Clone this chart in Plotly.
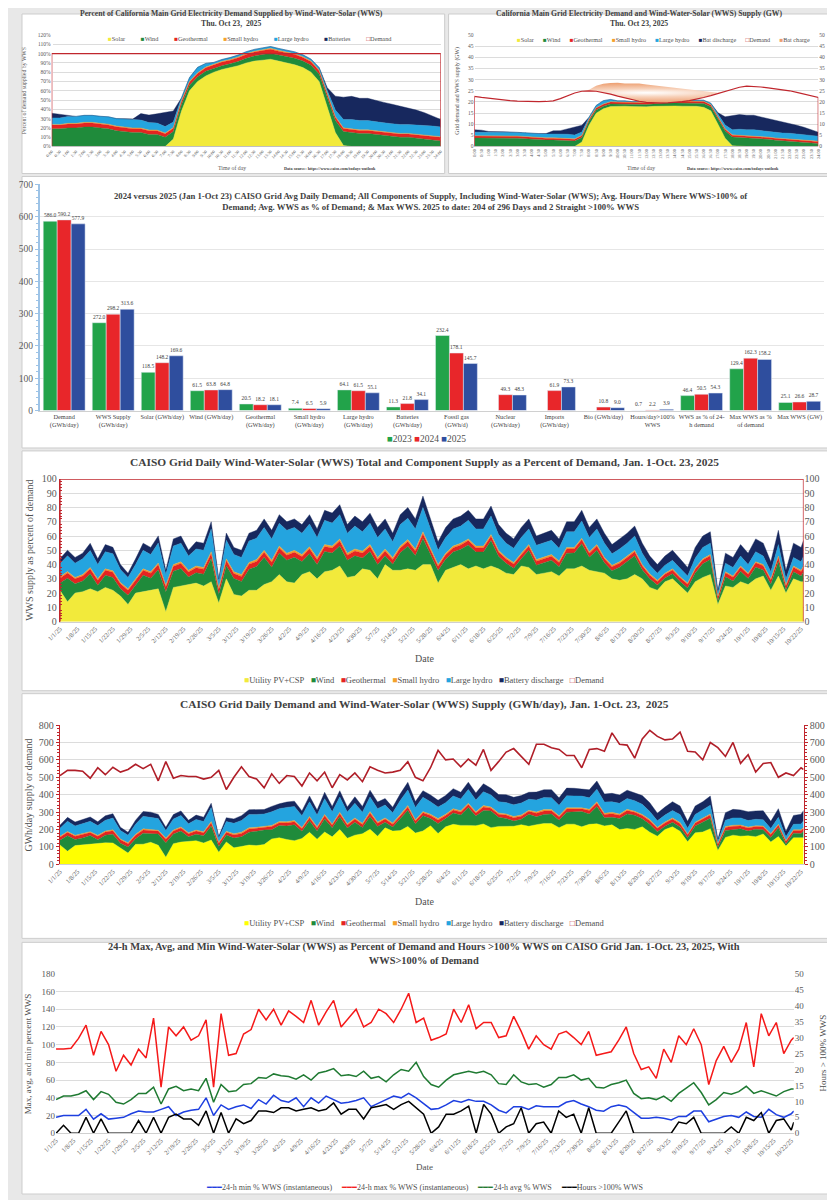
import pandas as pd
import plotly.graph_objects as go

# the page draws the figure 8 px in from the top-left corner (default body margin),
# so the figure is made 8 px smaller and every position is given in page pixels
PAGE_W, PAGE_H, OFF = 835, 1200, 8
W, H = PAGE_W - OFF, PAGE_H - OFF
SERIF = "Liberation Serif, Times New Roman, serif"

# ---------------- Oct 23 2025, read at half-hour steps ----------------
hours = [i / 2 for i in range(49)]
hour_labels = [f"{int(h)}:{'30' if h % 1 else '00'}" for h in hours]

# percent of demand (top-left)
solar_pct_day = [0, 0, 0, 0, 0, 0, 0, 0, 0, 0, 0, 0, 0, 0, 0,
                 8, 38, 60, 70, 76, 80, 83, 85, 87, 90, 92, 93, 94, 92, 90, 88, 85, 80, 70, 42, 15, 1,
                 0, 0, 0, 0, 0, 0, 0, 0, 0, 0, 0, 0]
wind_pct_day = [19, 19, 20, 20, 21, 21, 20, 19, 17, 16, 15, 15, 13, 13, 10,
                8, 7, 6, 5, 5, 4, 4, 4, 4.5, 5, 5.5, 6, 6.5, 6.5, 7, 7, 7, 7.5, 8, 10, 13, 15,
                15, 14, 14, 13, 12, 11, 10, 10, 9, 8, 7, 6]
geo_pct_day = [4.0, 4.0, 4.1, 4.1, 4.2, 4.2, 4.2, 4.2, 4.2, 4.2, 4.2, 4.1, 4.0, 3.9, 3.7,
               3.6, 3.5, 3.5, 3.6, 3.7, 3.8, 3.9, 4.0, 4.1, 4.2, 4.2, 4.3, 4.3, 4.2, 4.1, 4.0, 3.9, 3.8, 3.7, 3.6, 3.5, 3.4,
               3.3, 3.2, 3.2, 3.2, 3.3, 3.3, 3.4, 3.4, 3.5, 3.6, 3.7, 3.8]
shydro_pct_day = [0.8, 0.8, 0.8, 0.8, 0.8, 0.8, 0.8, 0.8, 0.8, 0.8, 0.8, 0.8, 0.8, 0.8, 0.7,
                  0.7, 0.7, 0.7, 0.7, 0.8, 0.8, 0.8, 0.8, 0.9, 0.9, 0.9, 0.9, 0.9, 0.9, 0.9, 0.9, 0.8, 0.8, 0.8, 0.8, 0.7, 0.7,
                  0.7, 0.7, 0.7, 0.7, 0.7, 0.7, 0.7, 0.7, 0.7, 0.8, 0.8, 0.8]
lhydro_pct_day = [7, 7, 7.5, 7.5, 7.5, 7.5, 7.5, 8, 8, 8.5, 8.5, 8.5, 8, 7.5, 7,
                  6, 3, 4, 6, 4, 2, 2, 2, 2, 2, 2, 2, 2, 2, 2, 2, 2, 2, 2.5, 4, 7, 9,
                  10, 10, 10, 9.5, 9.5, 9.5, 9.5, 9.5, 10, 10, 10.5, 10.5]
batt_pct_day = [5, 4, 1, 0, 0, 0, 0, 0, 0, 0.5, 1, 7, 8, 10, 15,
                12, 0, 0, 0, 0, 0, 0, 0, 0, 0, 0, 0, 0, 0, 0, 0, 0, 0, 0, 3, 15, 24,
                25, 24, 24, 23, 22, 21, 20, 18, 16, 14, 11, 8]
demand_pct_day = [100, 100, 100, 100, 100, 100, 100, 100, 100, 100, 100, 100, 100, 100, 100,
                  100, 100, 100, 100, 100, 100, 100, 100, 100, 100, 100, 100, 100, 100, 100, 100, 100,
                  100, 100, 100, 100, 100, 100, 100, 100, 100, 100, 100, 100, 100, 100, 100, 100, 100]

# GW (top-right)
demand_gw = [22.5, 22.0, 21.6, 21.2, 20.9, 20.6, 20.4, 20.2, 20.1, 20.1, 20.2, 20.5, 21.5, 22.8, 24.0,
             24.8, 25.0, 24.8, 24.2, 23.5, 22.6, 21.8, 21.0, 20.3, 19.8, 19.6, 19.5, 19.6, 19.8, 20.1, 20.6, 21.2,
             22.0, 22.8, 23.8, 24.8, 25.8,
             26.6, 27.1, 27.0, 26.7, 26.3, 25.9, 25.5, 25.0, 24.3, 23.5, 22.8, 22.0]
solar_gw = [0, 0, 0, 0, 0, 0, 0, 0, 0, 0, 0, 0, 0, 0, 0,
            2.0, 9.5, 14.9, 16.9, 17.9, 18.1, 18.1, 17.9, 17.7, 17.8, 18.0, 18.1, 18.4, 18.2, 18.1, 18.1, 18.0,
            17.6, 16.0, 10.0, 3.7, 0.3,
            0, 0, 0, 0, 0, 0, 0, 0, 0, 0, 0, 0]
wind_gw = [3.8, 3.8, 3.9, 3.9, 4.0, 3.9, 3.7, 3.5, 3.2, 3.0, 2.9, 2.9, 2.7, 2.8, 2.4,
           2.0, 1.8, 1.5, 1.2, 1.2, 0.9, 0.9, 0.8, 0.9, 1.0, 1.1, 1.2, 1.3, 1.3, 1.4, 1.4, 1.5, 1.7, 1.8, 2.4, 3.2, 3.9,
           4.0, 3.8, 3.8, 3.5, 3.2, 2.8, 2.6, 2.5, 2.2, 1.9, 1.6, 1.3]
geo_gw = [0.85, 0.85, 0.85, 0.85, 0.85, 0.85, 0.85, 0.85, 0.84, 0.84, 0.84, 0.84, 0.84, 0.84, 0.84,
          0.84, 0.84, 0.84, 0.84, 0.84, 0.84, 0.84, 0.84, 0.84, 0.84, 0.84, 0.84, 0.84, 0.84, 0.84, 0.84, 0.84,
          0.84, 0.84, 0.85, 0.85, 0.85,
          0.85, 0.85, 0.85, 0.85, 0.85, 0.85, 0.85, 0.85, 0.85, 0.85, 0.85, 0.85]
shydro_gw = [0.18, 0.18, 0.18, 0.18, 0.17, 0.17, 0.17, 0.17, 0.17, 0.17, 0.17, 0.17, 0.17, 0.18, 0.18,
             0.18, 0.18, 0.18, 0.18, 0.18, 0.18, 0.18, 0.18, 0.18, 0.18, 0.18, 0.18, 0.18, 0.18, 0.18, 0.18, 0.18,
             0.18, 0.18, 0.18, 0.18, 0.18,
             0.19, 0.19, 0.19, 0.19, 0.19, 0.19, 0.19, 0.18, 0.18, 0.18, 0.18, 0.18]
lhydro_gw = [1.6, 1.6, 1.6, 1.6, 1.6, 1.6, 1.6, 1.6, 1.6, 1.7, 1.7, 1.7, 1.7, 1.7, 1.7,
             1.5, 0.8, 1.0, 1.45, 1.0, 0.45, 0.45, 0.4, 0.4, 0.4, 0.4, 0.4, 0.4, 0.4, 0.4, 0.4, 0.45, 0.45,
             0.6, 1.0, 1.7, 2.3,
             2.7, 2.7, 2.7, 2.6, 2.5, 2.5, 2.4, 2.4, 2.4, 2.4, 2.3, 2.3]
batt_gw = [1.1, 0.9, 0.2, 0, 0, 0, 0, 0, 0, 0.1, 0.2, 1.4, 1.7, 2.3, 3.6,
           3.0, 0, 0, 0, 0, 0, 0, 0, 0, 0, 0, 0, 0, 0, 0, 0, 0, 0, 0, 0.7, 3.7, 6.2,
           6.6, 6.5, 6.5, 6.1, 5.8, 5.4, 5.1, 4.5, 3.9, 3.3, 2.5, 1.8]
charge_gw = [0, 0, 0, 0, 0, 0, 0, 0, 0, 0, 0, 0, 0, 0, 0, 0,
             0.5, 2.5, 4.0, 5.0, 6.0, 6.5, 7.3, 8.0, 8.0, 7.8, 7.5, 7.0, 6.5, 6.0, 5.0, 4.0, 2.8, 1.5, 0.3,
             0, 0, 0, 0, 0, 0, 0, 0, 0, 0, 0, 0, 0, 0]

# ---------------- bar chart: 2023 / 2024 / 2025 averages ----------------
bar_cats = ["Demand<br>(GWh/day)", "WWS Supply<br>(GWh/day)", "Solar (GWh/day)", "Wind (GWh/day)",
            "Geothermal<br>(GWh/day)", "Small hydro<br>(GWh/day)", "Large hydro<br>(GWh/day)",
            "Batteries<br>(GWh/day)", "Fossil gas<br>(GWh/d)", "Nuclear<br>(GWh/day)", "Imports<br>(GWh/day)",
            "Bio (GWh/day)", "Hours/day>100%<br>WWS", "WWS as % of 24-<br>h demand", "Max WWS as %<br>of demand",
            "Max WWS (GW)"]
bar_2023 = [586.0, 272.0, 118.5, 61.5, 20.5, 7.4, 64.1, 11.3, 232.4, None, None, None, 0.7, 46.4, 129.4, 25.1]
bar_2024 = [590.2, 298.2, 148.2, 63.8, 18.2, 6.5, 61.5, 21.8, 178.1, 49.3, 61.9, 10.8, 2.2, 50.5, 162.3, 26.6]
bar_2025 = [577.9, 313.6, 169.6, 64.8, 18.1, 5.9, 55.1, 34.1, 145.7, 48.3, 73.3, 9.0, 3.9, 54.3, 158.2, 28.7]

# ---------------- daily series, Jan 1 - Oct 23 2025, read every 3rd day ----------------
dates = pd.date_range("2025-01-01", "2025-10-22", freq="3D").strftime("%Y-%m-%d").tolist() + ["2025-10-23"]

pv_pct = [22, 14, 20, 21, 23, 21, 24, 22, 18, 12,
          20, 21, 22, 23, 7, 24, 25, 26, 27, 25,
          28, 13, 30, 19, 18, 22, 22, 26, 28, 33,
          28, 27, 33, 35, 30, 35, 36, 39, 31, 32,
          37, 36, 30, 40, 36, 36, 37, 36, 40, 40,
          27, 36, 38, 40, 37, 39, 37, 39, 37, 34,
          33, 39, 38, 33, 34, 35, 32, 37, 37, 39,
          36, 35, 34, 30, 29, 30, 33, 30, 24, 22,
          28, 30, 25, 20, 28, 31, 33, 12, 25, 24,
          28, 26, 30, 32, 22, 32, 20, 30, 28, 28]
wind_pct = [5.0, 16.5, 6.5, 7.5, 10.5, 4.5, 8.5, 9.0, 5.0, 6.5,
            5.5, 11.5, 8.5, 13.4, 14.0, 11.4, 12.3, 5.3, 7.3, 8.3,
            16.2, 6.0, 9.2, 11.2, 10.2, 14.7, 16.7, 19.1, 10.1, 15.1,
            15.1, 18.1, 9.1, 12.6, 10.1, 14.1, 12.1, 14.1, 12.1, 14.1,
            7.6, 13.1, 10.1, 6.1, 4.3, 12.3, 15.8, 10.3, 18.3, 7.6,
            8.8, 7.8, 10.8, 10.8, 16.8, 9.8, 11.8, 17.8, 8.8, 6.9,
            4.5, 5.0, 12.0, 6.5, 7.5, 8.0, 6.5, 11.0, 11.1, 15.6,
            9.1, 15.1, 7.2, 5.7, 9.2, 12.2, 13.2, 6.4, 6.0, 3.6,
            2.6, 3.6, 3.1, 3.6, 6.1, 9.5, 10.5, 2.5, 6.4, 4.4,
            7.3, 4.3, 8.2, 4.2, 4.2, 10.1, 2.2, 5.0, 4.0, 7.0]
geo_pct = [3.5, 3.6, 3.5, 3.5, 3.4, 3.5, 3.5, 3.6, 3.5, 3.5,
           3.5, 3.5, 3.5, 3.6, 3.5, 3.5, 3.5, 3.5, 3.5, 3.5,
           3.5, 3.5, 3.6, 3.5, 3.5, 3.5, 3.5, 3.5, 3.5, 3.5,
           3.5, 3.5, 3.5, 3.5, 3.5, 3.5, 3.6, 3.5, 3.5, 3.5,
           3.5, 3.5, 3.5, 3.5, 3.3, 3.3, 3.3, 3.3, 3.3, 3.1,
           3.0, 3.0, 3.0, 3.0, 3.0, 3.0, 3.0, 3.0, 3.0, 3.0,
           2.9, 2.9, 2.9, 2.9, 2.9, 2.9, 2.9, 2.9, 2.9, 2.9,
           2.9, 2.9, 2.8, 2.8, 2.8, 2.8, 2.8, 2.7, 2.6, 2.6,
           2.6, 2.6, 2.6, 2.6, 2.6, 2.7, 2.7, 2.7, 2.8, 2.8,
           2.9, 2.9, 3.0, 3.0, 3.0, 3.1, 3.0, 3.2, 3.2, 3.2]
shydro_pct = [1.0, 1.0, 1.0, 1.0, 1.0, 1.0, 1.0, 1.0, 1.0, 1.0,
              1.0, 1.0, 1.0, 1.1, 1.1, 1.1, 1.2, 1.2, 1.2, 1.2,
              1.3, 1.3, 1.3, 1.3, 1.3, 1.3, 1.3, 1.4, 1.4, 1.4,
              1.4, 1.4, 1.4, 1.4, 1.4, 1.4, 1.4, 1.4, 1.4, 1.4,
              1.4, 1.4, 1.4, 1.4, 1.4, 1.4, 1.4, 1.4, 1.4, 1.3,
              1.2, 1.2, 1.2, 1.2, 1.2, 1.2, 1.2, 1.2, 1.2, 1.1,
              1.1, 1.1, 1.1, 1.1, 1.1, 1.1, 1.1, 1.1, 1.0, 1.0,
              1.0, 1.0, 1.0, 1.0, 1.0, 1.0, 1.0, 0.9, 0.9, 0.8,
              0.8, 0.8, 0.8, 0.8, 0.8, 0.8, 0.8, 0.8, 0.8, 0.8,
              0.8, 0.8, 0.8, 0.8, 0.8, 0.8, 0.8, 0.8, 0.8, 0.8]
lhydro_pct = [9, 11, 10, 11, 12, 10, 12, 12, 9, 8,
              10, 13, 12, 14, 7.5, 13, 13, 10, 12, 12,
              16, 4.5, 13, 12, 12, 15, 15, 16, 15, 16,
              16, 16, 15, 16, 14, 17, 16, 17, 14, 16,
              13.5, 15, 14, 14, 11, 15, 15, 14, 17, 13,
              10, 11, 12, 12, 13, 12, 12, 13, 11, 10,
              10, 11, 11, 10, 10, 10, 9, 11, 11, 12,
              10, 11, 10, 8, 9, 9, 10, 8, 6, 5,
              5.5, 6, 6, 5, 7, 8, 8, 2, 6, 6,
              7, 6, 7, 6, 5, 8, 4, 6, 6, 7]
batt_pct = [3.5, 4, 4, 4, 5, 4, 5, 4.5, 3.5, 3,
            4, 5, 5, 5, 3, 5, 5, 4, 5, 5,
            5, 1.7, 5, 5, 5, 5.5, 5.5, 6, 6, 6,
            6, 6, 6, 6.5, 6, 7, 7, 7, 6, 7,
            7, 7, 7, 7, 6, 7, 7.5, 7, 8, 7,
            6, 7, 7, 7, 7, 7, 7, 7, 7, 7,
            6.5, 7, 7, 6.5, 6.5, 7, 6.5, 7, 7, 7.5,
            7, 7, 7, 6.5, 7, 7, 7, 7, 6.5, 6,
            6.5, 7, 6.5, 6, 7.5, 8, 8, 2, 7, 7,
            8, 8, 9, 9, 7, 10, 6, 10, 10, 11]
demand_pct = [100, 100, 100, 100, 100, 100, 100, 100, 100, 100,
              100, 100, 100, 100, 100, 100, 100, 100, 100, 100,
              100, 100, 100, 100, 100, 100, 100, 100, 100, 100,
              100, 100, 100, 100, 100, 100, 100, 100, 100, 100,
              100, 100, 100, 100, 100, 100, 100, 100, 100, 100,
              100, 100, 100, 100, 100, 100, 100, 100, 100, 100,
              100, 100, 100, 100, 100, 100, 100, 100, 100, 100,
              100, 100, 100, 100, 100, 100, 100, 100, 100, 100,
              100, 100, 100, 100, 100, 100, 100, 100, 100, 100,
              100, 100, 100, 100, 100, 100, 100, 100, 100, 100]

demand_gwh = [510, 540, 540, 535, 495, 555, 515, 558, 530, 545,
              575, 550, 575, 480, 590, 495, 510, 505, 505, 490,
              500, 540, 430, 500, 560, 505, 490, 440, 520, 465,
              510, 505, 450, 525, 480, 530, 440, 515, 485, 525,
              475, 560, 540, 525, 530, 540, 590, 500, 480, 555,
              655, 600, 605, 560, 605, 570, 660, 540, 590, 645,
              665, 620, 575, 690, 690, 670, 660, 625, 625, 555,
              660, 665, 650, 755, 690, 685, 610, 720, 770, 735,
              715, 720, 760, 650, 645, 600, 700, 670, 620, 700,
              580, 630, 530, 580, 585, 500, 525, 510, 555, 545]
pv_gwh = [112, 76, 108, 112, 114, 117, 124, 123, 95, 65,
          115, 116, 127, 110, 41, 119, 128, 131, 136, 123,
          140, 70, 129, 95, 101, 111, 108, 114, 146, 153,
          143, 136, 149, 184, 144, 186, 158, 201, 150, 168,
          176, 202, 162, 210, 191, 194, 218, 180, 192, 222,
          177, 216, 230, 224, 224, 222, 232, 211, 218, 219,
          219, 228, 219, 228, 235, 235, 211, 231, 231, 216,
          230, 233, 221, 227, 200, 206, 201, 216, 185, 162,
          200, 216, 190, 130, 181, 186, 205, 80, 155, 168,
          162, 164, 159, 175, 129, 160, 105, 153, 155, 153]
wind_gwh = [26, 89, 35, 40, 52, 25, 44, 50, 27, 35,
            32, 63, 49, 64, 83, 56, 63, 27, 37, 41,
            81, 32, 40, 56, 57, 74, 82, 84, 53, 70,
            77, 91, 41, 66, 48, 75, 53, 73, 59, 74,
            36, 73, 55, 32, 23, 66, 93, 52, 88, 42,
            58, 47, 65, 60, 102, 56, 78, 96, 52, 45,
            30, 31, 69, 45, 52, 54, 43, 69, 69, 87,
            60, 100, 47, 43, 63, 84, 81, 46, 46, 26,
            19, 26, 24, 23, 39, 57, 60, 17, 40, 31,
            42, 27, 43, 24, 25, 50, 12, 26, 22, 38]
geo_gwh = [18, 19, 19, 19, 17, 19, 18, 20, 19, 19,
           20, 19, 20, 17, 21, 17, 18, 18, 18, 17,
           18, 19, 15, 18, 20, 18, 17, 15, 18, 16,
           18, 18, 16, 18, 17, 19, 15, 18, 17, 18,
           17, 20, 19, 18, 17, 18, 19, 17, 16, 17,
           20, 18, 18, 17, 18, 17, 20, 16, 18, 19,
           19, 18, 17, 20, 20, 19, 19, 18, 18, 16,
           19, 19, 18, 21, 19, 19, 17, 19, 20, 19,
           19, 19, 20, 17, 17, 16, 19, 18, 17, 20,
           17, 18, 16, 17, 18, 16, 16, 16, 18, 17]
shydro_gwh = [5, 5, 5, 5, 5, 6, 5, 6, 5, 5,
              6, 6, 6, 5, 6, 5, 6, 6, 6, 6,
              7, 7, 6, 7, 7, 7, 6, 6, 7, 7,
              7, 7, 6, 7, 7, 7, 6, 7, 7, 7,
              7, 8, 8, 7, 7, 8, 8, 7, 7, 7,
              8, 7, 7, 7, 7, 7, 8, 6, 7, 7,
              7, 7, 6, 8, 8, 7, 7, 7, 6, 6,
              7, 7, 7, 8, 7, 7, 6, 6, 7, 6,
              6, 6, 6, 5, 5, 5, 6, 5, 5, 6,
              5, 5, 4, 5, 5, 4, 4, 4, 4, 4]
lhydro_gwh = [46, 59, 54, 59, 59, 56, 62, 67, 48, 44,
              58, 72, 69, 67, 44, 64, 66, 51, 61, 59,
              80, 24, 56, 60, 67, 76, 74, 70, 78, 74,
              82, 81, 68, 84, 67, 90, 70, 88, 68, 84,
              64, 84, 76, 74, 58, 81, 89, 70, 82, 72,
              66, 66, 73, 67, 79, 68, 79, 70, 65, 65,
              67, 68, 63, 69, 69, 67, 59, 69, 69, 67,
              66, 73, 65, 60, 62, 62, 61, 58, 46, 37,
              39, 43, 46, 33, 45, 48, 50, 13, 37, 42,
              41, 38, 37, 35, 29, 40, 21, 31, 33, 38]
batt_gwh = [18, 22, 22, 21, 25, 22, 26, 25, 19, 16,
            23, 28, 29, 24, 18, 25, 26, 20, 25, 25,
            25, 9, 22, 25, 28, 28, 27, 26, 31, 28,
            31, 30, 27, 34, 29, 37, 31, 36, 29, 37,
            33, 39, 38, 37, 32, 38, 44, 35, 38, 39,
            39, 42, 42, 39, 42, 40, 46, 38, 41, 45,
            43, 43, 40, 45, 45, 47, 43, 44, 44, 42,
            46, 47, 46, 49, 48, 48, 43, 50, 50, 44,
            46, 50, 49, 39, 48, 48, 52, 13, 43, 49,
            46, 50, 48, 52, 41, 50, 32, 51, 56, 60]

max_pct = [95, 95, 96, 107, 122, 88, 115, 100, 70, 88,
           77, 95, 85, 130, 52, 120, 110, 120, 105, 110,
           128, 52, 135, 88, 90, 112, 117, 140, 128, 140,
           122, 138, 132, 125, 150, 122, 137, 150, 120, 130,
           140, 120, 125, 140, 135, 125, 140, 158, 125, 130,
           105, 108, 112, 140, 125, 145, 118, 125, 125, 108,
           110, 132, 115, 95, 110, 100, 95, 112, 115, 108,
           100, 115, 88, 90, 92, 105, 120, 90, 72, 75,
           62, 95, 80, 110, 100, 118, 100, 55, 82, 98,
           80, 95, 125, 75, 135, 110, 125, 90, 105, 108]
avg_pct = [38, 42, 42, 44, 48, 38, 47, 44, 35, 33,
           38, 45, 45, 52, 33, 50, 53, 48, 50, 48,
           62, 35, 55, 47, 48, 55, 56, 63, 62, 67,
           65, 64, 61, 66, 60, 68, 70, 73, 65, 66,
           64, 70, 62, 64, 58, 66, 72, 70, 80, 64,
           55, 52, 60, 66, 68, 70, 68, 70, 66, 56,
           55, 66, 58, 55, 56, 52, 55, 63, 63, 66,
           60, 62, 52, 51, 55, 57, 60, 45, 39, 40,
           38, 42, 36, 45, 51, 57, 46, 32, 38, 46,
           44, 47, 53, 45, 48, 45, 42, 47, 50, 50]
min_pct = [18, 20, 20, 20, 27, 16, 22, 16, 17, 18,
           22, 25, 24, 24, 27, 30, 20, 24, 26, 27,
           40, 20, 32, 27, 30, 32, 28, 38, 33, 43,
           37, 35, 40, 30, 40, 34, 42, 38, 34, 35,
           37, 40, 30, 34, 38, 42, 40, 45, 40, 34,
           27, 28, 32, 37, 35, 38, 36, 36, 32, 26,
           23, 30, 30, 27, 31, 30, 30, 30, 35, 37,
           33, 30, 26, 25, 30, 32, 30, 24, 17, 17,
           18, 17, 15, 19, 19, 25, 25, 13, 16, 19,
           20, 18, 24, 19, 18, 27, 21, 18, 22, 25]
hours_over_100 = [0, 2.5, 0, 0, 5.0, 0, 4.5, 0, 0, 0,
                  0, 4.0, 0, 5.0, 0, 5.0, 6.0, 4.5, 4.5, 2.5,
                  7.0, 0, 6.5, 0, 4.5, 3.0, 4.0, 7.0, 7.0, 6.5,
                  8.0, 8.0, 7.0, 7.5, 8.0, 7.0, 7.5, 9.5, 6.0, 7.5,
                  7.5, 4.5, 8.0, 8.5, 9.0, 7.5, 9.0, 10.0, 8.0, 6.0,
                  0, 2, 6, 6, 7, 8.5, 0, 9, 6, 0,
                  2, 3, 8, 0, 3, 3.5, 0, 7, 5, 6,
                  0, 8, 0, 0, 0, 3.5, 7, 0, 0, 0,
                  0, 0, 0, 3.5, 3, 5, 0, 0, 0, 0,
                  2, 0, 5, 4, 6.5, 0, 4, 4.5, 1, 3.5]

# ---------------- colours ----------------
PV, PV_E = "#F2EA3B", "#FFFF00"
WIND, GEO, SHYD, LHYD, BATT = "#1F8B3B", "#E52421", "#F4A12B", "#24A4DF", "#17285E"
DEM, CHG = "#C0262D", "#ED9E6F"
GRID = "#dcdcdc"
TXT = "#404040"


def px(x):  # page pixel -> paper x
    return (x - OFF) / W


def py(y):
    return 1 - (y - OFF) / H


fig = go.Figure()


def area(x, y, color, group, xa, ya, name):
    fig.add_trace(go.Scatter(x=x, y=y, name=name, mode="lines", stackgroup=group,
                             line=dict(width=0.4, color=color), fillcolor=color,
                             xaxis=xa, yaxis=ya, showlegend=False))


# panel A: percent of demand, one day
for y, c, n in [(solar_pct_day, PV, "Solar"), (wind_pct_day, WIND, "Wind"), (geo_pct_day, GEO, "Geothermal"),
                (shydro_pct_day, SHYD, "Small hydro"), (lhydro_pct_day, LHYD, "Large hydro"),
                (batt_pct_day, BATT, "Batteries")]:
    area(hours, y, c, "a", "x", "y", n)
fig.add_trace(go.Scatter(x=[hours[0]] + hours + [hours[-1]], y=[0] + demand_pct_day + [0], mode="lines",
                         line=dict(color=DEM, width=1.2), xaxis="x", yaxis="y", showlegend=False, name="Demand"))

# panel B: GW, one day
for y, c, n in [(solar_gw, PV, "Solar"), (wind_gw, WIND, "Wind"), (geo_gw, GEO, "Geothermal"),
                (shydro_gw, SHYD, "Small hydro"), (lhydro_gw, LHYD, "Large hydro"),
                (batt_gw, BATT, "Bat discharge")]:
    area(hours, y, c, "b", "x2", "y2", n)
fig.add_trace(go.Scatter(x=hours, y=demand_gw, mode="lines", stackgroup="chg", fill="none",
                         line=dict(width=0), xaxis="x2", yaxis="y3", showlegend=False, hoverinfo="skip"))
fig.add_trace(go.Scatter(x=hours, y=charge_gw, mode="lines", stackgroup="chg", fill="tonexty",
                         line=dict(width=0), fillcolor=CHG,
                         fillgradient=dict(type="radial", colorscale=[[0, "#ffffff"], [0.4, "#f7d2bb"], [1, CHG]]),
                         xaxis="x2", yaxis="y3", showlegend=False, name="Bat charge"))
fig.add_trace(go.Scatter(x=[hours[0]] + hours + [hours[-1]], y=[0] + demand_gw + [0], mode="lines",
                         line=dict(color=DEM, width=1.2), xaxis="x2", yaxis="y3", showlegend=False, name="Demand"))

# panel C: bars
for vals, c, n in [(bar_2023, "#22A34A", "2023"), (bar_2024, "#E8262A", "2024"), (bar_2025, "#2F4E9E", "2025")]:
    fig.add_trace(go.Bar(x=bar_cats, y=vals, name=n, marker_color=c, xaxis="x3", yaxis="y4",
                         texttemplate="%{y:.1f}", textposition="outside", constraintext="none",
                         textfont=dict(size=5.5, color=TXT, family=SERIF), cliponaxis=False, showlegend=False))

# panel D: daily percent
for y, c, n in [(pv_pct, PV, "Utility PV+CSP"), (wind_pct, WIND, "Wind"), (geo_pct, GEO, "Geothermal"),
                (shydro_pct, SHYD, "Small hydro"), (lhydro_pct, LHYD, "Large hydro"),
                (batt_pct, BATT, "Battery discharge")]:
    area(dates, y, c, "d", "x4", "y5", n)
fig.add_trace(go.Scatter(x=[dates[0]] + dates + [dates[-1]], y=[0] + demand_pct + [0], mode="lines",
                         line=dict(color=DEM, width=1.4), xaxis="x4", yaxis="y6", showlegend=False, name="Demand"))

# panel E: daily GWh
for y, c, n in [(pv_gwh, PV_E, "Utility PV+CSP"), (wind_gwh, WIND, "Wind"), (geo_gwh, GEO, "Geothermal"),
                (shydro_gwh, SHYD, "Small hydro"), (lhydro_gwh, LHYD, "Large hydro"),
                (batt_gwh, BATT, "Battery discharge")]:
    area(dates, y, c, "e", "x5", "y7", n)
fig.add_trace(go.Scatter(x=dates, y=demand_gwh, mode="lines", line=dict(color="#B01E28", width=1.6),
                         xaxis="x5", yaxis="y8", showlegend=False, name="Demand"))

# panel F: lines
for y, c, n, ya in [(min_pct, "#1D3FE0", "24-h min % WWS (instantaneous)", "y9"),
                    (max_pct, "#F51919", "24-h max % WWS (instantaneous)", "y9"),
                    (avg_pct, "#1F7A32", "24-h avg % WWS", "y9"),
                    (hours_over_100, "#000000", "Hours >100% WWS", "y10")]:
    fig.add_trace(go.Scatter(x=dates, y=y, mode="lines", line=dict(color=c, width=1.5), name=n,
                             xaxis="x6", yaxis=ya, showlegend=False))

# ---------------- axes ----------------
tf = lambda s, c="#595959": dict(size=s, color=c, family=SERIF)


def yax(dom, rng, dtick, size, anchor, **kw):
    d = dict(domain=dom, range=rng, dtick=dtick, tickfont=tf(size), gridcolor=GRID, zeroline=False,
             anchor=anchor, ticks="")
    d.update(kw)
    return d


date_x = dict(type="date", range=["2025-01-01", "2025-10-23"], tick0="2025-01-01", dtick=604800000,
              tickformat="%-m/%-d/%y", tickangle=-45, tickfont=tf(6.5), showgrid=False,
              showline=True, linecolor="#d0d0d0", ticks="")
red_axis = dict(showline=True, linecolor=DEM, linewidth=1.3, ticks="outside", ticklen=3, tickcolor=DEM,
                minor=dict(ticks="outside", ticklen=2, tickcolor=DEM))

dom_top = [py(141.7), py(29.3)]
fig.update_layout(
    xaxis=dict(domain=[px(38.3), px(435)], range=[0, 24], tickvals=hours, ticktext=hour_labels, tickangle=-45,
               tickfont=tf(4.3), showgrid=False, showline=True, linecolor="#c0c0c0", anchor="y"),
    yaxis=yax(dom_top, [0, 120], 10, 5.5, "x", ticksuffix="%"),
    xaxis2=dict(domain=[px(469.3), px(820)], range=[0, 24], tickvals=hours, ticktext=hour_labels, tickangle=-90,
                tickfont=tf(4.3), showgrid=False, showline=True, linecolor="#c0c0c0", anchor="y2"),
    yaxis2=yax(dom_top, [0, 50], 5, 5.5, "x2"),
    yaxis3=yax(dom_top, [0, 50], 5, 5.5, "x2", overlaying="y2", side="right", showgrid=False),
    xaxis3=dict(domain=[px(26), px(826)], type="category", tickfont=tf(6.3, TXT), tickangle=0, showline=True,
                linecolor="#d0d0d0", anchor="y4"),
    yaxis4=yax([py(408.3), py(180)], [0, 700], 100, 9.5, "x3", showline=True, linecolor="#9DC3E6", linewidth=1.5,
               ticks="outside", ticklen=3, tickcolor="#9DC3E6", gridcolor="#e6e6e6",
               minor=dict(ticks="outside", ticklen=2, tickcolor="#9DC3E6", dtick=20)),
    xaxis4=dict(domain=[px(46.7), px(805)], anchor="y5", **date_x),
    yaxis5=yax([py(621.3), py(477.3)], [0, 100], 10, 10, "x4"),
    yaxis6=yax([py(621.3), py(477.3)], [0, 100], 10, 10, "x4", overlaying="y5", side="right", showgrid=False),
    xaxis5=dict(domain=[px(46.7), px(805)], anchor="y7", **date_x),
    yaxis7=yax([py(866.3), py(725.7)], [0, 800], 100, 10, "x5", **red_axis),
    yaxis8=yax([py(866.3), py(725.7)], [0, 800], 100, 10, "x5", overlaying="y7", side="right", showgrid=False,
               **red_axis),
    xaxis6=dict(domain=[px(42.7), px(795)], anchor="y9", **date_x),
    yaxis9=yax([py(1137.7), py(976.7)], [0, 180], 20, 9, "x6"),
    yaxis10=yax([py(1137.7), py(976.7)], [0, 50], 5, 9, "x6", overlaying="y9", side="right", showgrid=False),
)
fig.layout.yaxis5.update(showline=True, linecolor=DEM, linewidth=1.3,
                         minor=dict(ticks="inside", ticklen=2, tickcolor=DEM, dtick=2))

# ---------------- text ----------------
ann = []


def text(s, x, y, size, bold=False, color=TXT, angle=0, xanchor="center"):
    ann.append(dict(text=f"<b>{s}</b>" if bold else s, x=px(x), y=py(y), xref="paper", yref="paper",
                    showarrow=False, font=dict(size=size, color=color, family=SERIF), textangle=angle,
                    xanchor=xanchor, yanchor="middle", align="center"))


def legend(items, x, y, size, gap=3):
    parts = []
    for c, label, sym in items:
        parts.append(f"<span style='color:{c}'>{sym}</span>{label}")
    text(("&nbsp;" * gap).join(parts), x, y, size, color="#505050")


SQ, BOX, LN = "■", "<b>□</b>", "━━━"
text("Percent of California Main Grid Electricity Demand Supplied by Wind-Water-Solar (WWS)<br>Thu. Oct 23,  2025",
     222, 13, 7.7, bold=True)
legend([(PV, "Solar", SQ), (WIND, "Wind", SQ), (GEO, "Geothermal", SQ), (SHYD, "Small hydro", SQ),
        (LHYD, "Large hydro", SQ), (BATT, "Batteries", SQ), (DEM, "Demand", BOX)], 241, 33, 6.3, gap=10)
text("Percent of demand supplied by WWS", 10, 85, 5.8, angle=-90, color="#595959")
text("Time of day", 222, 163, 5.8, color="#595959")
text("<b>Data source: https://www.caiso.com/todays-outlook</b>", 322, 164, 4.2, color="#404040")

text("California Main Grid Electricity Demand and Wind-Water-Solar (WWS) Supply (GW)<br>Thu. Oct 23, 2025",
     638, 13, 7.7, bold=True)
legend([(PV, "Solar", SQ), (WIND, "Wind", SQ), (GEO, "Geothermal", SQ), (SHYD, "Small hydro", SQ),
        (LHYD, "Large hydro", SQ), (BATT, "Bat discharge", SQ), (DEM, "Demand", BOX), (CHG, "Bat charge", SQ)],
       662, 34, 6.2, gap=6)
text("Grid demand and WWS supply (GW)", 452, 85, 5.8, angle=-90, color="#595959")
text("Time of day", 639, 163, 5.8, color="#595959")
text("<b>Data source: https://www.caiso.com/todays-outlook</b>", 733, 164, 4.2, color="#404040")

text("2024 versus 2025 (Jan 1-Oct 23) CAISO Grid Avg Daily Demand; All Components of Supply, Including "
     "Wind-Water-Solar (WWS); Avg. Hours/Day Where WWS>100% of<br>Demand; Avg. WWS as % of Demand; &amp; Max WWS. "
     "2025 to date: 204 of 296 Days and 2 Straight >100% WWS", 425, 197, 8.7, bold=True)
legend([("#22A34A", "2023", SQ), ("#E8262A", "2024", SQ), ("#2F4E9E", "2025", SQ)], 420, 437, 9.5, gap=1)

text("CAISO Grid Daily Wind-Water-Solar (WWS) Total and Component Supply as a Percent of Demand, "
     "Jan. 1-Oct. 23, 2025", 418, 461, 11.4, bold=True)
text("WWS supply as percent of demand", 15, 549, 10, angle=-90, color="#505050")
text("Date", 418, 659, 10, color="#505050")
legend([(PV, "Utility PV+CSP", SQ), (WIND, "Wind", SQ), (GEO, "Geothermal", SQ), (SHYD, "Small hydro", SQ),
        (LHYD, "Large hydro", SQ), (BATT, "Battery discharge", SQ), (DEM, "Demand", BOX)], 418, 680, 8.5)

text("CAISO Grid Daily Demand and Wind-Water-Solar (WWS) Supply (GWh/day), Jan. 1-Oct. 23,  2025",
     418, 705, 11.4, bold=True)
text("GWh/day supply or demand", 15, 796, 10, angle=-90, color="#505050")
text("Date", 418, 904, 10, color="#505050")
legend([(PV_E, "Utility PV+CSP", SQ), (WIND, "Wind", SQ), (GEO, "Geothermal", SQ), (SHYD, "Small hydro", SQ),
        (LHYD, "Large hydro", SQ), (BATT, "Battery discharge", SQ), (DEM, "Demand", BOX)], 418, 925, 8.5)

text("24-h Max, Avg, and Min Wind-Water-Solar (WWS) as Percent of Demand and Hours >100% WWS on CAISO Grid "
     "Jan. 1-Oct. 23, 2025, With<br>WWS>100% of Demand", 418, 956, 10.4, bold=True)
text("Max, avg, and min percent WWS", 14, 1057, 9, angle=-90, color="#505050")
text("Hours > 100% WWS", 825, 1057, 9, angle=-90, color="#505050")
text("Date", 418, 1172, 9, color="#505050")
legend([("#1D3FE0", "24-h min % WWS (instantaneous)", LN), ("#F51919", "24-h max % WWS (instantaneous)", LN),
        ("#1F7A32", "24-h avg % WWS", LN), ("#000000", "Hours >100% WWS", LN)], 418, 1192, 8, gap=5)

# panel frames
shapes = []
for x0, y0, x1, y1 in [(8, 8, 439, 169), (443, 8, 834, 169), (8, 172, 834, 446), (8, 449, 834, 691),
                       (8, 694, 834, 941), (8, 945, 834, 1199)]:
    shapes.append(dict(type="rect", xref="paper", yref="paper", x0=px(x0), x1=px(x1), y0=py(y1), y1=py(y0),
                       fillcolor="white", line=dict(color="#cdcdcd", width=1), layer="below"))

fig.update_layout(width=W, height=H, margin=dict(l=0, r=0, t=0, b=0), paper_bgcolor="#e8e8e8",
                  plot_bgcolor="rgba(0,0,0,0)", showlegend=False, annotations=ann, shapes=shapes,
                  bargap=0.146, bargroupgap=0, barmode="group", font=dict(family=SERIF, color=TXT))

fig.write_html("out.html")
